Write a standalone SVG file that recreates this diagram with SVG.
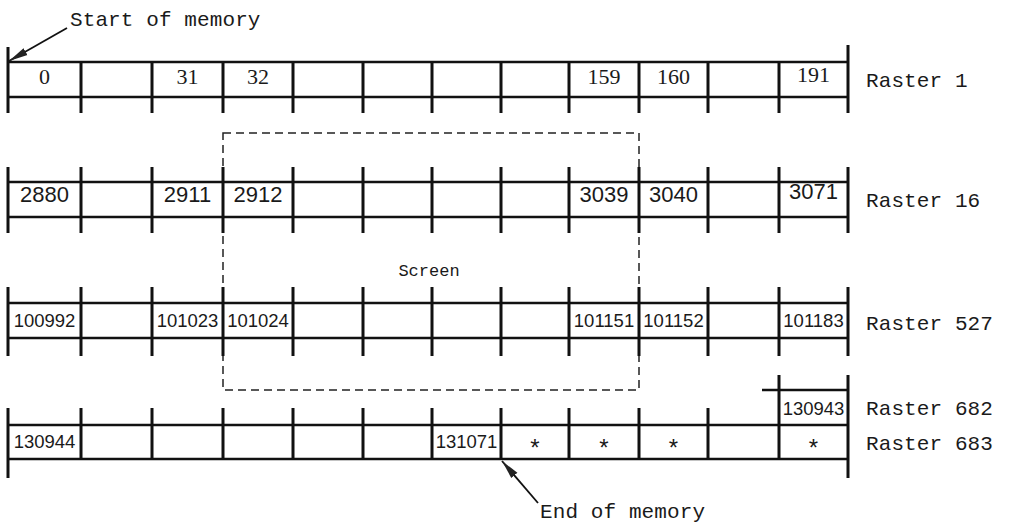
<svg xmlns="http://www.w3.org/2000/svg" width="1009" height="524" viewBox="0 0 1009 524">
<style>
.h{stroke:#111;stroke-width:2.3;fill:none}
.v{stroke:#111;stroke-width:3;fill:none}
.dash{stroke:#222;stroke-width:1.5;fill:none;stroke-dasharray:8 5}
.lbl{font-family:"Liberation Mono",monospace;font-size:21px;fill:#1a1a1a;letter-spacing:0.1px}
.n1{font-family:"Liberation Serif",serif;font-size:22px;fill:#1a1a1a;text-anchor:middle}
.n2{font-family:"Liberation Sans",sans-serif;font-size:22px;fill:#1a1a1a;text-anchor:middle}
.n3{font-family:"Liberation Sans",sans-serif;font-size:18.5px;fill:#1a1a1a;text-anchor:middle}
.ast{font-family:"Liberation Sans",sans-serif;font-size:24px;fill:#1a1a1a;text-anchor:middle}
.arr{stroke:#111;stroke-width:1.8;fill:none}
</style>
<defs>
<marker id="ah" markerWidth="20" markerHeight="10" refX="19" refY="5" orient="auto" markerUnits="userSpaceOnUse">
<path d="M0,1 L19,5 L0,9 Z" fill="#222"/>
</marker>
</defs>
<rect width="1009" height="524" fill="#fff"/>

<g id="screen">
<rect class="dash" x="223" y="133" width="416" height="257"/>
<text x="429" y="276" font-family="Liberation Mono, monospace" font-size="17" fill="#1a1a1a" text-anchor="middle">Screen</text>
</g>

<g id="raster1">
<path class="h" d="M8,62 H848 M8,97 H848"/>
<path class="v" d="M8,47 V113 M848,45 V113 M81,62 V113 M152,62 V113 M223,62 V113 M293,62 V113 M363,62 V113 M432,62 V113 M501,62 V113 M569,62 V113 M639,62 V113 M708,62 V113 M779,62 V113"/>
<text class="n1" x="44.5" y="84">0</text>
<text class="n1" x="187.5" y="84">31</text>
<text class="n1" x="258" y="84">32</text>
<text class="n1" x="604" y="84">159</text>
<text class="n1" x="673.5" y="84">160</text>
<text class="n1" x="813.5" y="82">191</text>
<text class="lbl" x="866" y="87">Raster 1</text>
</g>

<g id="raster16">
<path class="h" d="M8,182 H848 M8,217 H848"/>
<path class="v" d="M8,167 V233 M81,167 V233 M152,167 V233 M223,167 V233 M293,167 V233 M363,167 V233 M432,167 V233 M501,167 V233 M569,167 V233 M639,167 V233 M708,167 V233 M779,167 V233 M848,167 V233"/>
<text class="n2" x="44.5" y="202">2880</text>
<text class="n2" x="187.5" y="202">2911</text>
<text class="n2" x="258" y="202">2912</text>
<text class="n2" x="604" y="202">3039</text>
<text class="n2" x="673.5" y="202">3040</text>
<text class="n2" x="813.5" y="199">3071</text>
<text class="lbl" x="866" y="207">Raster 16</text>
</g>

<g id="raster527">
<path class="h" d="M8,303 H848 M8,338 H848"/>
<path class="v" d="M8,287 V356 M81,287 V356 M152,287 V356 M223,287 V356 M293,287 V356 M363,287 V356 M432,287 V356 M501,287 V356 M569,287 V356 M639,287 V356 M708,287 V356 M779,287 V356 M848,287 V356"/>
<text class="n3" x="44.5" y="327">100992</text>
<text class="n3" x="187.5" y="327">101023</text>
<text class="n3" x="258" y="327">101024</text>
<text class="n3" x="604" y="327">101151</text>
<text class="n3" x="673.5" y="327">101152</text>
<text class="n3" x="813.5" y="327">101183</text>
<text class="lbl" x="866" y="330">Raster 527</text>
</g>

<g id="raster682">
<path class="h" d="M762,390 H848"/>
<path class="v" d="M779,375 V425 M848,375 V425"/>
<text class="n3" x="813.5" y="415">130943</text>
<text class="lbl" x="866" y="415">Raster 682</text>
</g>

<g id="raster683">
<path class="h" d="M8,425 H848 M8,459 H848"/>
<path class="v" d="M8,408 V478 M848,425 V478 M81,408 V459 M152,408 V459 M223,408 V459 M293,408 V459 M363,408 V459 M432,408 V459 M501,408 V459 M569,408 V459 M639,408 V459 M708,408 V459 M779,425 V459"/>
<text class="n3" x="44.5" y="448">130944</text>
<text class="n3" x="466.5" y="448">131071</text>
<text class="ast" x="535" y="456">*</text>
<text class="ast" x="604" y="456">*</text>
<text class="ast" x="673.5" y="456">*</text>
<text class="ast" x="813.5" y="456">*</text>
<text class="lbl" x="866" y="450">Raster 683</text>
</g>

<g id="start-label">
<text class="lbl" x="70" y="26">Start of memory</text>
</g>
<g id="end-label">
<text class="lbl" x="540" y="518">End of memory</text>
</g>

<g id="connectors">
<path class="arr" d="M67,28 L9,61" marker-end="url(#ah)"/>
<path class="arr" d="M538,503 L502,461" marker-end="url(#ah)"/>
</g>
</svg>
